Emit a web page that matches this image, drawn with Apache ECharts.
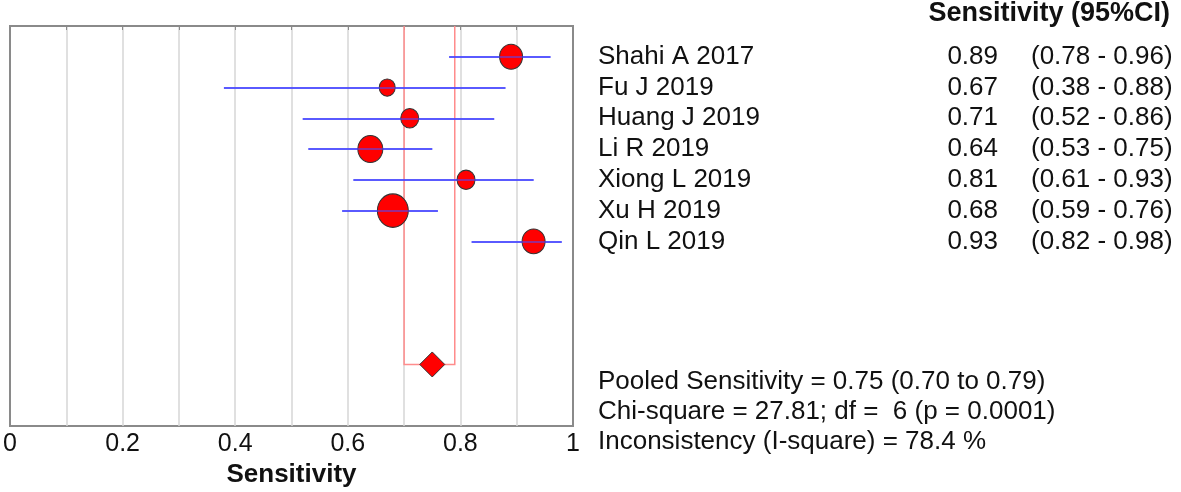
<!DOCTYPE html>
<html><head><meta charset="utf-8">
<script src="https://cdn.jsdelivr.net/npm/echarts@6/dist/echarts.min.js"></script>
<style>html,body{margin:0;padding:0;background:#fff}#c{width:1181px;height:492px}</style>
</head><body><div id="c"></div>
<script>
const studies = ['Shahi A 2017','Fu J 2019','Huang J 2019','Li R 2019','Xiong L 2019','Xu H 2019','Qin L 2019'];
const sens = [0.89, 0.67, 0.71, 0.64, 0.81, 0.68, 0.93];
const ciLow = [0.78, 0.38, 0.52, 0.53, 0.61, 0.59, 0.82];
const ciHigh = [0.96, 0.88, 0.86, 0.75, 0.93, 0.76, 0.98];
const weights = [23, 16, 18, 25, 18, 31, 23];
const pooledEst = 0.75, pooledLow = 0.70, pooledHigh = 0.79;
const xTickLabels = ['0', '0.2', '0.4', '0.6', '0.8', '1'];
const header = 'Sensitivity (95%CI)';
const axisTitle = 'Sensitivity';
const statsLines = [
  'Pooled Sensitivity = 0.75 (0.70 to 0.79)',
  'Chi-square = 27.81; df =  6 (p = 0.0001)',
  'Inconsistency (I-square) = 78.4 %'
];

const FONT = '"Liberation Sans", Arial, sans-serif';
const chart = echarts.init(document.getElementById('c'), null, {renderer: 'canvas'});
const rowPos = studies.map((_, i) => i + 1);
const pooledRow = 11;

chart.setOption({
  animation: false,
  backgroundColor: '#fff',
  grid: {left: 10, right: 608, top: 26, bottom: 66, show: true, borderColor: '#8a8a8a', borderWidth: 2,
         backgroundColor: 'transparent', containLabel: false, outerBoundsMode: 'none'},
  xAxis: {
    type: 'value', min: 0, max: 1, interval: 0.1,
    axisLine: {show: true, lineStyle: {color: '#8a8a8a', width: 2}},
    axisTick: {show: true, length: 4, lineStyle: {color: '#8a8a8a', width: 1}},
    splitLine: {show: true, showMinLine: false, showMaxLine: false, lineStyle: {color: '#d6d6d6', width: 1.5}},
    axisLabel: {
      fontFamily: FONT, fontSize: 25, color: '#111', margin: 6,
      formatter: v => { const k = Math.round(v * 10); return k % 2 === 0 ? xTickLabels[k / 2] : ''; }
    },
    name: axisTitle, nameLocation: 'middle', nameGap: 36,
    nameTextStyle: {fontFamily: FONT, fontSize: 26, fontWeight: 'bold', color: '#111'}
  },
  yAxis: {type: 'value', min: 0, max: 13, inverse: true, show: false},
  series: [
    {
      type: 'lines', coordinateSystem: 'cartesian2d', z: 3,
      lineStyle: {color: '#4a4aff', width: 2, opacity: 0.8},
      data: studies.map((s, i) => ({coords: [[ciLow[i], rowPos[i]], [ciHigh[i], rowPos[i]]]}))
    },
    {
      type: 'lines', coordinateSystem: 'cartesian2d', polyline: true, z: 2,
      lineStyle: {color: '#ff8c8c', width: 1.5, opacity: 1},
      data: [{coords: [[pooledLow, 0], [pooledLow, pooledRow], [pooledHigh, pooledRow], [pooledHigh, 0]]}]
    },
    {
      type: 'scatter', z: 4,
      itemStyle: {color: '#ff0000', borderColor: '#333', borderWidth: 1, opacity: 1},
      data: studies.map((s, i) => ({value: [sens[i], rowPos[i]], symbolSize: [weights[i], weights[i] * 1.08]}))
    },
    {
      type: 'lines', coordinateSystem: 'cartesian2d', z: 5,
      lineStyle: {color: '#4a4aff', width: 2, opacity: 0.55},
      data: studies.map((s, i) => ({coords: [[ciLow[i], rowPos[i]], [ciHigh[i], rowPos[i]]]}))
    },
    {
      type: 'scatter', z: 6, symbol: 'diamond', symbolSize: 25,
      itemStyle: {color: '#ff0000', borderColor: '#333', borderWidth: 1, opacity: 1},
      data: [[pooledEst, pooledRow]]
    }
  ]
});

const txt = (x, y, text, opts) => Object.assign({
  type: 'text', x: x, y: y,
  style: Object.assign({text: text, font: '26px ' + FONT, fill: '#111', textVerticalAlign: 'middle', verticalAlign: 'middle'}, opts || {})
});
const rowY = i => chart.convertToPixel({gridIndex: 0}, [0, rowPos[i]])[1];
const g = [];
g.push(txt(1170, 14, header, {font: 'bold 27px ' + FONT, textAlign: 'right', align: 'right'}));
studies.forEach((s, i) => {
  const y = rowY(i);
  g.push(txt(598, y, s));
  g.push(txt(998, y, sens[i].toFixed(2), {textAlign: 'right', align: 'right'}));
  g.push(txt(1031, y, '(' + ciLow[i].toFixed(2) + ' - ' + ciHigh[i].toFixed(2) + ')'));
});
statsLines.forEach((s, i) => g.push(txt(598, 382 + i * 30, s)));
chart.setOption({graphic: g});
</script>
</body></html>
